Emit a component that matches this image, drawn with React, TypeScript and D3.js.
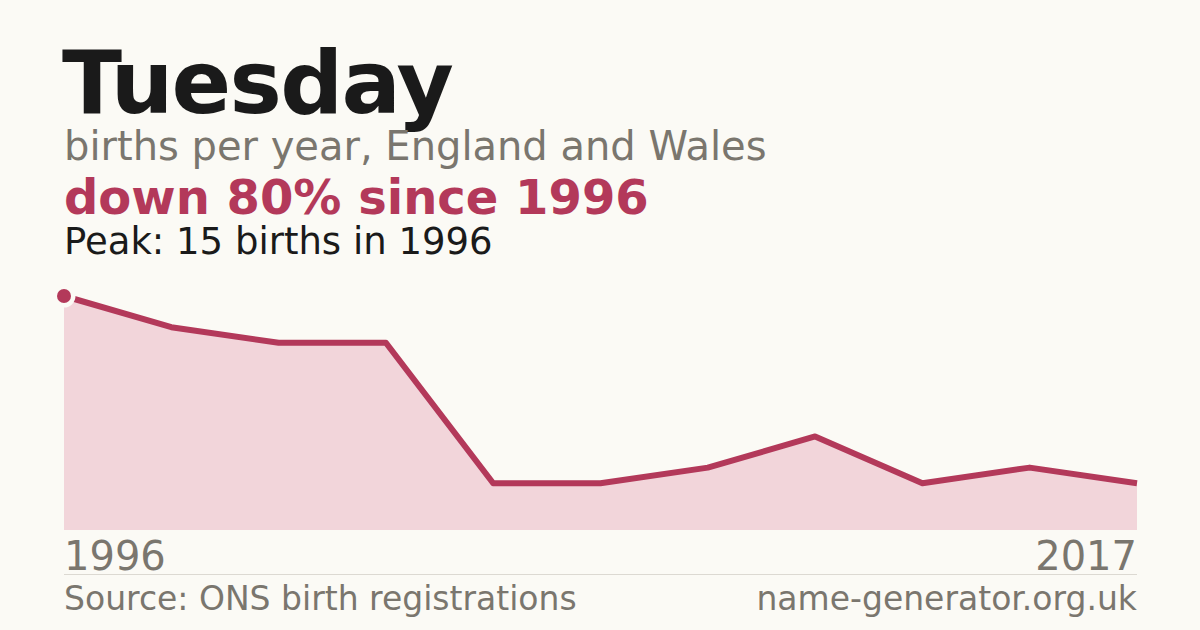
import React, { useEffect, useRef } from 'react';
import * as d3 from 'd3';

const W = 1200;
const H = 630;

// births per sampled year, left to right
const births = [15, 13, 12, 12, 3, 3, 4, 6, 3, 4, 3];
const firstYear = '1996';
const lastYear = '2017';

const title = 'Tuesday';
const subtitle = 'births per year, England and Wales';
const headline = 'down 80% since 1996';
const peakNote = 'Peak: 15 births in 1996';
const source = 'Source: ONS birth registrations';
const site = 'name-generator.org.uk';

const BG = '#fbfaf5';
const RED = '#b3395a';
const FILL = '#f2d5da';
const GREY = '#7a766e';
const INK = '#1a1a1a';

export default function App() {
  const svgRef = useRef<SVGSVGElement>(null);

  useEffect(() => {
    if (!svgRef.current) return;
    const svg = d3.select(svgRef.current);
    svg.selectAll('*').remove();

    const left = 64;
    const right = 1137;

    const x = d3.scaleLinear().domain([0, births.length - 1]).range([left, right]);
    const y = d3.scaleLinear().domain([0, 15]).range([530, 296]);

    svg.append('rect').attr('width', W).attr('height', H).attr('fill', BG);

    const font = '"DejaVu Sans", sans-serif';

    const txt = (s: string, tx: number, ty: number, size: number, color: string, weight = 'normal', anchor = 'start') =>
      svg.append('text')
        .attr('x', tx)
        .attr('y', ty)
        .attr('text-anchor', anchor)
        .style('font-family', font)
        .style('font-size', `${size}px`)
        .style('font-weight', weight)
        .attr('fill', color)
        .text(s);

    txt(title, 62, 113, 88, INK, 'bold').style('letter-spacing', '-1.7px');
    txt(subtitle, 64, 160, 40, GREY);
    txt(headline, 64, 214, 48, RED, 'bold');
    txt(peakNote, 64, 254, 37, INK);

    const area = d3.area<number>()
      .x((_, i) => x(i))
      .y0(y(0))
      .y1(d => y(d));

    const line = d3.line<number>()
      .x((_, i) => x(i))
      .y(d => y(d));

    svg.append('path')
      .datum(births)
      .attr('d', area)
      .attr('fill', FILL);

    svg.append('path')
      .datum(births)
      .attr('d', line)
      .attr('fill', 'none')
      .attr('stroke', RED)
      .attr('stroke-width', 6)
      .attr('stroke-linejoin', 'round');

    const peakIdx = births.indexOf(d3.max(births) as number);
    svg.append('circle')
      .attr('cx', x(peakIdx))
      .attr('cy', y(births[peakIdx]))
      .attr('r', 7)
      .attr('fill', RED)
      .attr('stroke', BG)
      .attr('stroke-width', 9)
      .attr('paint-order', 'stroke');

    txt(firstYear, 64, 570, 40, GREY);
    txt(lastYear, right, 570, 40, GREY, 'normal', 'end');

    svg.append('line')
      .attr('x1', left)
      .attr('x2', right)
      .attr('y1', 574.5)
      .attr('y2', 574.5)
      .attr('stroke', '#dcd9d2')
      .attr('stroke-width', 1);

    txt(source, 64, 610, 33, GREY);
    txt(site, right, 610, 33, GREY, 'normal', 'end');
  }, []);

  return (
    <div style={{ position: 'fixed', top: 0, left: 0, width: W, height: H }}>
      <svg ref={svgRef} width={W} height={H} />
    </div>
  );
}
